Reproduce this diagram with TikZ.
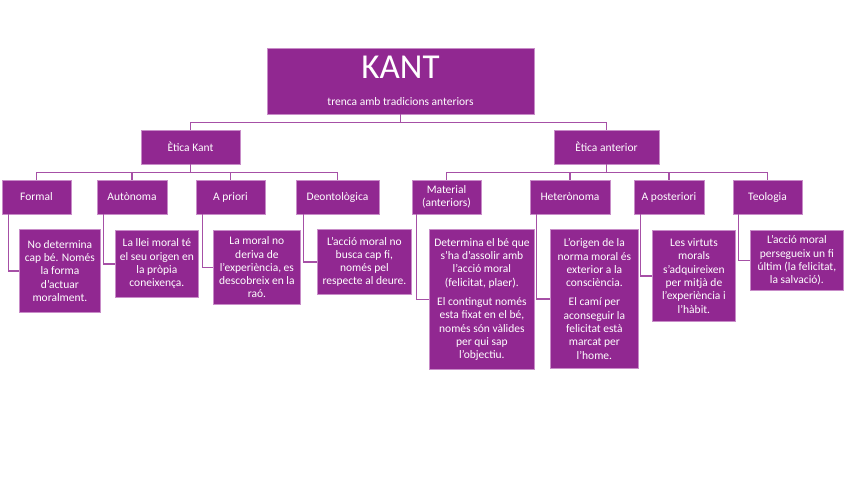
\documentclass[tikz,border=0pt]{standalone}
\usepackage{fontspec}
\setmainfont{Carlito}
\usetikzlibrary{positioning}
\usetikzlibrary{calc}
\definecolor{plum}{RGB}{145,40,145}
\definecolor{plumedge}{RGB}{200,140,200}
\definecolor{plumline}{RGB}{166,80,166}

\begin{document}
\begin{tikzpicture}
    [x=1pt, y=-1pt,
    box/.style={fill=plum, draw=plumedge, line width=0.8pt, text=white, inner sep=2pt, align=center},
    head/.style={box, minimum height=34pt, font=\fontsize{11.5}{13}\selectfont},
    leaf/.style={box, anchor=north west, font=\fontsize{11.5}{13.3}\selectfont},
    link/.style={draw=plumline, line width=1.2pt}]
    \useasboundingbox (0,0) rectangle (848,477);
    % top
    \node[box, minimum width=267pt, minimum height=66pt, inner sep=0pt] (kant) at (400.5,81)
        {\fontsize{35}{36}\selectfont KANT\\[15pt]\fontsize{11.5}{14}\selectfont trenca amb tradicions anteriors};
    \node[head, minimum width=99pt]  (ek) at (190.5,147) {Ètica Kant};
    \node[head, minimum width=105pt] (ea) at (606.5,147) {Ètica anterior};
    % kinds of ethics
    \node[head, minimum width=69pt] (formal)   at (36.5,197)  {Formal};
    \node[head, minimum width=70pt] (auto)     at (132,197)   {Autònoma};
    \node[head, minimum width=69pt] (apriori)  at (230.5,197) {A priori};
    \node[head, minimum width=83pt] (deont)    at (337.5,197) {Deontològica};
    \node[head, minimum width=69pt] (material) at (446.5,197) {Material\\(anteriors)};
    \node[head, minimum width=80pt] (hetero)   at (570,197)   {Heterònoma};
    \node[head, minimum width=70pt] (apost)    at (669,197)   {A posteriori};
    \node[head, minimum width=69pt] (teol)     at (767.5,197) {Teologia};
    % explanations
    \node[leaf, minimum width=81pt, minimum height=83pt]  (dformal)   at (19,229)
        {No determina\\cap bé. Només\\la forma\\d’actuar\\moralment.};
    \node[leaf, minimum width=83pt, minimum height=67pt]  (dauto)     at (115,230)
        {La llei moral té\\el seu origen en\\la pròpia\\coneixença.};
    \node[leaf, minimum width=87pt, minimum height=74pt]  (dapriori)  at (213,230)
        {La moral no\\deriva de\\l’experiència, es\\descobreix en la\\raó.};
    \node[leaf, minimum width=94pt, minimum height=65pt]  (ddeont)    at (317,229)
        {L’acció moral no\\busca cap fi,\\només pel\\respecte al deure.};
    \node[leaf, minimum width=105pt, minimum height=140pt] (dmaterial) at (429,229)
        {Determina el bé que\\s’ha d’assolir amb\\l’acció moral\\(felicitat, plaer).\\[6pt]
         El contingut només\\esta fixat en el bé,\\només són vàlides\\per qui sap\\l’objectiu.};
    \node[leaf, minimum width=88pt, minimum height=139pt] (dhetero)   at (550,229)
        {L’origen de la\\norma moral és\\exterior a la\\consciència.\\[6pt]
         El camí per\\aconseguir la\\felicitat està\\marcat per\\l’home.};
    \node[leaf, minimum width=83pt, minimum height=91pt]  (dapost)    at (652,230)
        {Les virtuts\\morals\\s’adquireixen\\per mitjà de\\l’experiència i\\l’hàbit.};
    \node[leaf, minimum width=93pt, minimum height=60pt]  (dteol)     at (750,230)
        {L’acció moral\\persegueix un fi\\últim (la felicitat,\\la salvació).};
    % connectors
    \draw[link] (kant.south) -- ++(0,8) -| (ek.north);
    \draw[link] (kant.south) -- ++(0,8) -| (ea.north);
    \foreach \kid in {formal,auto,apriori,deont}
        \draw[link] (ek.south) -- ++(0,8) -| (\kid.north);
    \foreach \kid in {material,hetero,apost,teol}
        \draw[link] (ea.south) -- ++(0,8) -| (\kid.north);
    \foreach \kid/\off in {formal/7,auto/7,apriori/7,deont/8,material/5,hetero/7,apost/7,teol/6}
        \draw[link] ($(\kid.south west)+(\off,0)$) |- (d\kid.west);
\end{tikzpicture}
\end{document}
